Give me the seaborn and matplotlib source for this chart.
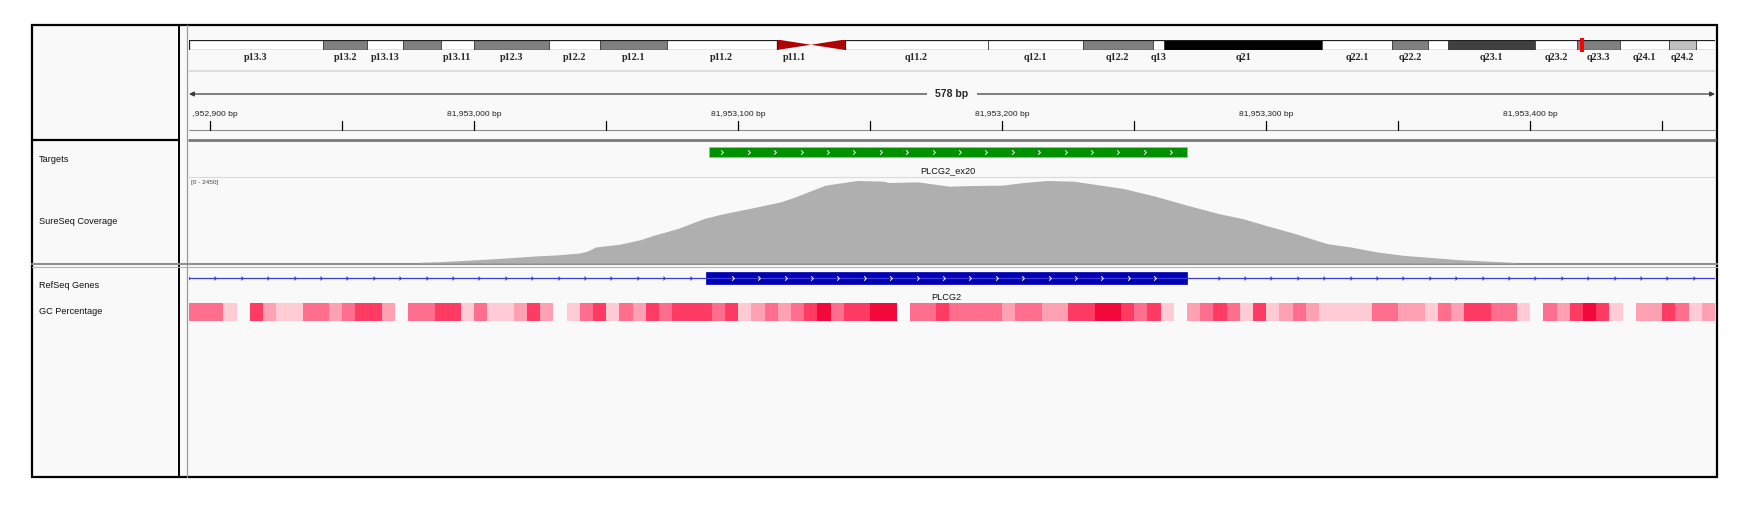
import numpy as np
import matplotlib
matplotlib.use("Agg")
import matplotlib.pyplot as plt
from matplotlib.colors import ListedColormap
from matplotlib.patches import Rectangle, Polygon
from matplotlib.path import Path
import seaborn as sns

sns.set_style("white")
plt.rcParams["font.family"] = ["Liberation Sans", "DejaVu Sans"]

# ---------------------------------------------------------------
# values (chr16, PLCG2 exon 20)
# ---------------------------------------------------------------
view_start = 81952892
view_end = 81953470

# chr16 cytobands (Mb)
band_names = ["p13.3", "p13.2", "p13.13", "p13.12", "p13.11", "p12.3", "p12.2",
              "p12.1", "p11.2", "p11.1", "q11.1", "q11.2", "q12.1", "q12.2",
              "q13", "q21", "q22.1", "q22.2", "q22.3", "q23.1", "q23.2", "q23.3",
              "q24.1", "q24.2", "q24.3"]
band_start = [0.0, 7.9, 10.5, 12.6, 14.8, 16.8, 21.2, 24.2, 28.1, 34.6, 36.6,
              38.6, 47.0, 52.6, 56.7, 57.4, 66.7, 70.8, 72.9, 74.1, 79.2, 81.7,
              84.2, 87.1, 88.7]
band_end = band_start[1:] + [90.35]
band_stain = ["gneg", "gpos50", "gneg", "gpos50", "gneg", "gpos50", "gneg",
              "gpos50", "gneg", "acen", "acen", "gneg", "gneg", "gpos50",
              "gneg", "gpos100", "gneg", "gpos50", "gneg", "gpos75", "gneg",
              "gpos50", "gneg", "gpos25", "gneg"]
unlabeled_bands = ["p13.12", "q11.1", "q22.3", "q24.3"]

track_names = ["Targets", "SureSeq Coverage", "RefSeq Genes", "GC Percentage"]

target_name = "PLCG2_ex20"
target_start, target_end = 81953089, 81953270

gene_name = "PLCG2"
exon_start, exon_end = 81953088, 81953270

cov_max = 2450
cov_pos = [81952979, 81952987, 81952997, 81953006, 81953014, 81953023, 81953031,
           81953040, 81953043, 81953046, 81953055, 81953063, 81953068, 81953077,
           81953082, 81953087, 81953093, 81953096, 81953106, 81953116, 81953121,
           81953133, 81953139, 81953145, 81953155, 81953157, 81953168, 81953180,
           81953188, 81953200, 81953207, 81953217, 81953227, 81953233, 81953246,
           81953258, 81953270, 81953282, 81953291, 81953301, 81953311, 81953323,
           81953332, 81953342, 81953352, 81953373, 81953393, 81953395]
cov_depth = [19, 38, 77, 115, 153, 201, 230, 287, 345, 459, 536, 670, 794, 986,
             1129, 1273, 1388, 1436, 1589, 1751, 1876, 2230, 2297, 2364, 2345,
             2306, 2325, 2201, 2220, 2230, 2297, 2364, 2345, 2278, 2134, 1914,
             1656, 1416, 1273, 1053, 842, 555, 459, 316, 220, 96, 19, 0]

# GC percentage in 5 bp windows (0 = no value)
gc_window_start = 81952890
gc_window = 5
gc_pct = [60, 60, 60, 40, 0, 70, 50, 40, 40, 60, 60, 50, 60, 70, 70, 50, 0, 60,
          60, 70, 70, 40, 60, 40, 40, 50, 70, 50, 0, 40, 60, 70, 40, 60, 50, 70,
          60, 70, 70, 70, 60, 70, 40, 50, 60, 50, 60, 70, 80, 60, 70, 70, 80, 80,
          0, 60, 60, 70, 60, 60, 60, 60, 50, 60, 60, 50, 50, 70, 70, 80, 80, 70,
          60, 70, 40, 0, 50, 60, 70, 60, 40, 70, 40, 50, 60, 50, 40, 40, 40, 40,
          60, 60, 50, 50, 40, 60, 50, 70, 70, 60, 60, 40, 0, 60, 50, 70, 80, 70,
          40, 0, 50, 50, 70, 60, 40, 50]

# ---------------------------------------------------------------
# layout (pixels of the 1755 x 508 screenshot)
# ---------------------------------------------------------------
W, H = 1755, 508
BG = "#f9f9f9"
DATA_X0, DATA_X1 = 189, 1715
PX_PER_BP = (DATA_X1 - DATA_X0) / (view_end - view_start)

fig = plt.figure(figsize=(W / 100, H / 100), dpi=100)
fig.patch.set_facecolor("white")


def px_axes(x0, y0, x1, y1):
    """Axes placed by pixel box, no frame or ticks."""
    ax = fig.add_axes([x0 / W, 1 - y1 / H, (x1 - x0) / W, (y1 - y0) / H])
    ax.set_axis_off()
    return ax


def chevron():
    return Path([(-0.6, 1.0), (0.4, 0.0), (-0.6, -1.0)])


# frame, panel borders, track names
bg = px_axes(0, 0, W, H)
bg.set_xlim(0, W)
bg.set_ylim(H, 0)
bg.add_patch(Rectangle((32, 25), 1685, 452, fc=BG, ec="black", lw=1.6))
bg.plot([179, 179], [25, 477], color="black", lw=1.4)
bg.plot([32, 179], [140, 140], color="black", lw=1.6)
bg.plot([187, 187], [25, 477], color="#9a9a9a", lw=0.9)
bg.plot([DATA_X0, DATA_X1], [71, 71], color="#dcdcdc", lw=1.5)
bg.plot([DATA_X0, DATA_X1], [130, 130], color="#8c8c8c", lw=0.8)
bg.plot([DATA_X0, DATA_X1], [139.5, 139.5], color="#7a7a7a", lw=2.0)
bg.plot([DATA_X0, DATA_X1], [177, 177], color="#dadada", lw=0.8)
bg.plot([32, 1717], [263.5, 263.5], color="#8f8f8f", lw=1.5)
bg.plot([32, 1717], [266.8, 266.8], color="#b5b5b5", lw=0.8)
for name, y in zip(track_names, [160, 221, 286, 312]):
    bg.text(39, y, name, fontsize=6.6, va="center", ha="left", color="#111111")

# ideogram
ideo = px_axes(DATA_X0, 39.5, DATA_X1, 50)
ideo.set_xlim(0, 89.8)
ideo.set_ylim(0, 1)
stain_color = {"gneg": "white", "gpos25": "#c0c0c0", "gpos50": "#808080",
               "gpos75": "#404040", "gpos100": "black", "acen": "#b00000"}
for name, s, e, st in zip(band_names, band_start, band_end, band_stain):
    if st == "acen":
        if name.startswith("p"):
            tri = [(s, 0), (s, 1), (e, 0.5)]
        else:
            tri = [(s, 0.5), (e, 1), (e, 0)]
        ideo.add_patch(Polygon(tri, closed=True, fc=stain_color[st], ec="none"))
    else:
        ideo.add_patch(Rectangle((s, 0), e - s, 1, fc=stain_color[st],
                                 ec="#404040", lw=0.6))
    if name not in unlabeled_bands:
        ideo.text((s + e) / 2, -0.25, name, ha="center", va="top", fontsize=7.3,
                  fontweight="bold", family="Liberation Serif", clip_on=False)
cen_lo = band_start[band_stain.index("acen")]
cen_hi = band_end[len(band_stain) - 1 - band_stain[::-1].index("acen")]
ideo.add_patch(Rectangle((0, 0), cen_lo, 1, fill=False, ec="#202020", lw=0.9))
ideo.add_patch(Rectangle((cen_hi, 0), band_end[-1] - cen_hi, 1, fill=False,
                         ec="#202020", lw=0.9))
view_mid_mb = (view_start + view_end) / 2 / 1e6
ideo.add_patch(Rectangle((view_mid_mb - 0.12, -0.15), 0.24, 1.3, fc="#ff0000",
                         ec="none", clip_on=False))

# ruler (left edge clipped a little so the first label is cut like IGV does)
ruler_x0 = 192
ruler = px_axes(ruler_x0, 70, DATA_X1, 132)
ruler.set_xlim(view_start + (ruler_x0 - DATA_X0) / PX_PER_BP, view_end)
ruler.set_ylim(132, 70)
ruler.annotate("", xy=(view_start, 94), xytext=(view_end, 94),
               arrowprops=dict(arrowstyle="<|-|>", color="#3a3a3a", lw=0.9,
                               mutation_scale=7, shrinkA=0, shrinkB=0),
               annotation_clip=False)
ruler.text((view_start + view_end) / 2, 94, f"{view_end - view_start} bp",
           ha="center", va="center", fontsize=7.5, fontweight="bold",
           bbox=dict(fc=BG, ec="none", pad=6))
first_tick = int(np.ceil(view_start / 50) * 50)
for t in np.arange(first_tick, view_end, 50):
    ruler.plot([t, t], [121, 130], color="black", lw=0.9)
    if t % 100 == 0:
        ruler.text(t, 114, f"{t:,} bp", ha="center", va="center", fontsize=6.1,
                   color="#222222", clip_on=True)

# targets track
tgt = px_axes(DATA_X0, 140, DATA_X1, 177)
tgt.set_xlim(view_start, view_end)
tgt.set_ylim(177, 140)
tgt.add_patch(Rectangle((target_start, 147), target_end - target_start, 10,
                        fc="#009100", ec="#7fcf7f", lw=0.5))
arr_x = np.arange(target_start + 5, target_end, 10)
tgt.plot(arr_x, [152] * len(arr_x), ls="none", marker=chevron(), ms=3.2,
         mfc="none", mec="white", mew=0.7)
tgt.text((target_start + target_end) / 2, 171, target_name, ha="center",
         va="center", fontsize=6.6, color="#111111")

# coverage track
cov = px_axes(DATA_X0, 177.5, DATA_X1, 263)
cov.set_xlim(view_start, view_end)
cov.set_ylim(0, cov_max)
cov.fill_between(cov_pos, cov_depth, color="#afafaf", lw=0)
cov.text(0.0015, 0.94, f"[0 - {cov_max}]", transform=cov.transAxes,
         fontsize=4.6, color="#444444", va="center", ha="left")

# RefSeq gene track
gene = px_axes(DATA_X0, 267, DATA_X1, 303)
gene.set_xlim(view_start, view_end)
gene.set_ylim(303, 267)
gene.plot([view_start, view_end], [278, 278], color="#3c3cdc", lw=0.9)
intron_x = [x for x in np.arange(view_start, view_end, 10)
            if not exon_start - 3 <= x <= exon_end + 3]
gene.plot(intron_x, [278] * len(intron_x), ls="none", marker=chevron(), ms=2.6,
          mfc="none", mec="#3c3cdc", mew=0.8)
gene.add_patch(Rectangle((exon_start, 272), exon_end - exon_start, 12,
                         fc="#0000b2", ec="#0000b2", lw=0.5))
exon_x = np.arange(exon_start + 10, exon_end - 5, 10)
gene.plot(exon_x, [278] * len(exon_x), ls="none", marker=chevron(), ms=3.2,
          mfc="none", mec="white", mew=0.7)
gene.text((exon_start + exon_end) / 2, 297, gene_name, ha="center",
          va="center", fontsize=6.6, color="#111111")

# GC percentage track
gc = px_axes(DATA_X0, 302.5, DATA_X1, 321)
gc_arr = np.array(gc_pct, dtype=float)[None, :]
gc_cmap = ListedColormap(["#ffccd6", "#ffa0b3", "#ff6f8d", "#ff3b63", "#f2083b"])
sns.heatmap(gc_arr, mask=gc_arr == 0, ax=gc, cmap=gc_cmap, vmin=35, vmax=85,
            cbar=False, xticklabels=False, yticklabels=False)
gc.set_xlim((view_start - gc_window_start) / gc_window,
            (view_end - gc_window_start) / gc_window)
gc.set_axis_off()

fig.savefig("out.png", dpi=100, facecolor="white")
